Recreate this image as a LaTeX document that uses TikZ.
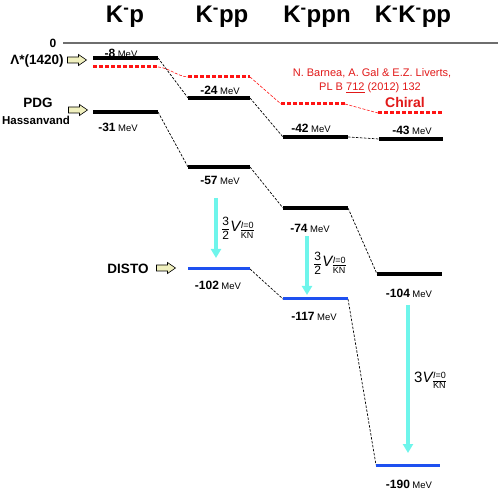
\documentclass[tikz,border=0pt]{standalone}
\usepackage{fontspec}
\setmainfont{Liberation Sans}
\usetikzlibrary{arrows.meta}
\definecolor{lvred}{RGB}{255,20,20}
\definecolor{txred}{RGB}{225,25,25}
\definecolor{cyanarr}{RGB}{110,245,235}
\definecolor{lvblue}{RGB}{30,80,240}
\definecolor{yelfill}{RGB}{240,240,190}
\definecolor{zerogray}{RGB}{110,110,110}
\newcommand\lvmev[1]{{\fontsize{12}{12}\selectfont\bfseries #1}\hspace{2.5pt}{\fontsize{9.5}{9.5}\selectfont MeV}}
\newcommand\lvvkn{\mbox{\fontsize{15}{15}\selectfont\itshape V}\kern0.5pt$^{\mbox{\fontsize{9}{9}\selectfont\itshape I\upshape =0}}_{\overline{\mbox{\fontsize{9}{9}\selectfont KN}}}$}
\newcommand\lvfrac{$\displaystyle\frac{\mbox{\fontsize{12}{12}\selectfont 3}}{\mbox{\fontsize{12}{12}\selectfont 2}}$}
\begin{document}
\begin{tikzpicture}[x=1pt,y=-1pt,
  level/.style={line width=3.5pt},
  bluelevel/.style={line width=3pt, lvblue},
  reddot/.style={line width=3pt, lvred, dash pattern=on 4pt off 2pt},
  conn/.style={line width=0.7pt, dash pattern=on 2.5pt off 1.5pt},
  redconn/.style={lvred, line width=0.6pt, dash pattern=on 3pt off 1.5pt},
  hdr/.style={font=\fontsize{24}{24}\selectfont\bfseries, inner sep=0},
  val/.style={inner sep=0},
  side/.style={font=\fontsize{13.5}{13.5}\selectfont\bfseries, inner sep=0},
  cyarr/.style={cyanarr, line width=3.5pt, -{Triangle[width=10pt,length=9pt]}},
  yarrow/.pic={\draw[fill=yelfill, line width=0.6pt] (-9.5,-3) -- (1.5,-3) -- (1.5,-5.5) -- (9.5,0) -- (1.5,5.5) -- (1.5,3) -- (-9.5,3) -- cycle;}
]
\useasboundingbox (0,0) rectangle (498,494);

% headers
\node[hdr] (h1) at (125,17) {K\textsuperscript{-}p};
\node[hdr] (h2) at (222,17) {K\textsuperscript{-}pp};
\node[hdr] (h3) at (317,17) {K\textsuperscript{-}ppn};
\node[hdr] (h4) at (413,17) {K\textsuperscript{-}K\textsuperscript{-}pp};

% zero line
\coordinate (z0) at (63,43);
\coordinate (z1) at (498,43);
\draw[zerogray, line width=1.4pt] (z0) -- (z1);
\node[font=\fontsize{12}{12}\selectfont\bfseries, inner sep=0] (zl) at (53,43) {0};

% level end points
\coordinate (a8L) at (93,58);   \coordinate (a8R) at (158,58);
\coordinate (a31L) at (93,112); \coordinate (a31R) at (158,112);
\coordinate (arL) at (93,67);   \coordinate (arR) at (158,67);
\coordinate (b24L) at (188,98); \coordinate (b24R) at (250,98);
\coordinate (b57L) at (188,167); \coordinate (b57R) at (250,167);
\coordinate (b102L) at (188,269); \coordinate (b102R) at (250,269);
\coordinate (brL) at (188,77);  \coordinate (brR) at (250,77);
\coordinate (c42L) at (283,137); \coordinate (c42R) at (348,137);
\coordinate (c74L) at (283,208); \coordinate (c74R) at (348,208);
\coordinate (c117L) at (283,299); \coordinate (c117R) at (348,299);
\coordinate (crL) at (281,104); \coordinate (crR) at (345,104);
\coordinate (d43L) at (379,139); \coordinate (d43R) at (443,139);
\coordinate (d104L) at (377,274); \coordinate (d104R) at (442,274);
\coordinate (d190L) at (376,465); \coordinate (d190R) at (440,465);
\coordinate (drL) at (378,113); \coordinate (drR) at (442,113);

% connectors
\draw[conn] (a8R) -- (b24L);
\draw[conn] (a31R) -- (b57L);
\draw[conn] (b24R) -- (c42L);
\draw[conn] (b57R) -- (c74L);
\draw[conn] (b102R) -- (c117L);
\draw[conn] (c42R) -- (d43L);
\draw[conn] (c74R) -- (d104L);
\draw[conn] (c117R) -- (d190L);
\draw[redconn] (arR) .. controls (170,68) and (176,76) .. (brL);
\draw[redconn] (brR) -- (crL);
\draw[redconn] (crR) -- (drL);

% levels
\draw[level] (a8L) -- (a8R);
\draw[level] (a31L) -- (a31R);
\draw[level] (b24L) -- (b24R);
\draw[level] (b57L) -- (b57R);
\draw[level] (c42L) -- (c42R);
\draw[level] (c74L) -- (c74R);
\draw[level] (d43L) -- (d43R);
\draw[level] (d104L) -- (d104R);
\draw[bluelevel] (b102L) -- (b102R);
\draw[bluelevel] (c117L) -- (c117R);
\draw[bluelevel] (d190L) -- (d190R);
\draw[reddot] (arL) -- (arR);
\draw[reddot] (brL) -- (brR);
\draw[reddot] (crL) -- (crR);
\draw[reddot] (drL) -- (drR);

% values
\node[val] (v8) at (121,53) {\lvmev{-8}};
\node[val] (v24) at (220,90) {\lvmev{-24}};
\node[val] (v31) at (118,127) {\lvmev{-31}};
\node[val] (v57) at (220,180) {\lvmev{-57}};
\node[val] (v102) at (218,285) {\lvmev{-102}};
\node[val] (v42) at (311,128) {\lvmev{-42}};
\node[val] (v43) at (412,130) {\lvmev{-43}};
\node[val] (v74) at (310,228) {\lvmev{-74}};
\node[val] (v117) at (314,316) {\lvmev{-117}};
\node[val] (v104) at (409,293) {\lvmev{-104}};
\node[val] (v190) at (409,484) {\lvmev{-190}};

% side labels
\node[side] (lam) at (37,61) {Λ*(1420)};
\pic at (77,60) {yarrow};
\node[side] (pdg) at (38,103) {PDG};
\node[side, font=\fontsize{11.5}{11.5}\selectfont\bfseries] (has) at (36,120) {Hassanvand};
\pic at (78,110) {yarrow};
\node[side] (disto) at (128,269) {DISTO};
\pic at (166,268) {yarrow};

% red reference text
\node[txred, font=\fontsize{11}{11}\selectfont, inner sep=0] (ref1) at (372,73) {N. Barnea, A. Gal \& E.Z. Liverts,};
\node[txred, font=\fontsize{11}{11}\selectfont, inner sep=0] (ref2) at (370,88) {PL B \underline{712} (2012) 132};
\node[txred, font=\fontsize{14}{14}\selectfont\bfseries, inner sep=0] (chiral) at (405,102) {Chiral};

% cyan arrows
\coordinate (ca1s) at (216,198); \coordinate (ca1e) at (216,258);
\coordinate (ca2s) at (307,236); \coordinate (ca2e) at (307,295);
\coordinate (ca3s) at (408,305); \coordinate (ca3e) at (408,453);
\draw[cyarr] (ca1s) -- (ca1e);
\draw[cyarr] (ca2s) -- (ca2e);
\draw[cyarr] (ca3s) -- (ca3e);
\node[anchor=west, inner sep=0] (l1) at (221,228) {\lvfrac\lvvkn};
\node[anchor=west, inner sep=0] (l2) at (313,263) {\lvfrac\lvvkn};
\node[anchor=west, inner sep=0] (l3) at (414,380) {\mbox{\fontsize{15}{15}\selectfont 3}\lvvkn};
\end{tikzpicture}
\end{document}
